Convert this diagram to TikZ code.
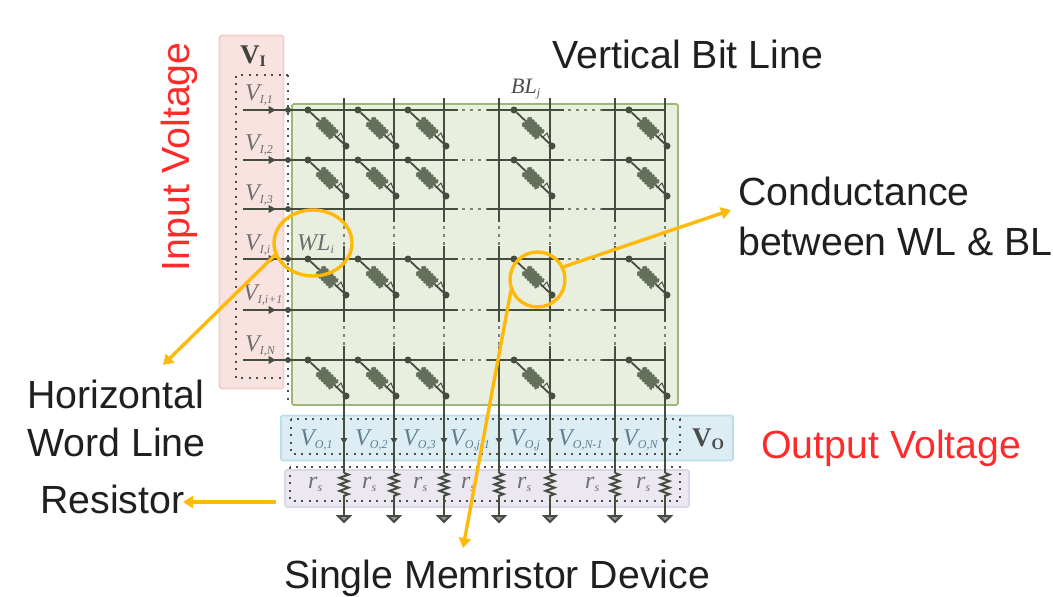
\documentclass[tikz,border=0pt]{standalone}
\usepackage{fontspec}
\setmainfont{Liberation Sans}
\newfontfamily\serifr{Liberation Serif}
\newcommand{\lab}[2]{{\serifr\itshape #1\raisebox{-3pt}{\fontsize{12}{12}\selectfont #2}}}
\newcommand{\blab}[2]{{\serifr\bfseries #1\raisebox{-3pt}{\fontsize{16}{16}\selectfont #2}}}
\usetikzlibrary{arrows.meta,decorations.pathmorphing,shapes.geometric}
\definecolor{pinkbox}{HTML}{F8E3E1}
\definecolor{pinkedge}{HTML}{F2CFCB}
\definecolor{greenbox}{HTML}{E9EFDF}
\definecolor{greenedge}{HTML}{9CB878}
\definecolor{bluebox}{HTML}{DCEEF4}
\definecolor{blueedge}{HTML}{B8DFEA}
\definecolor{purplebox}{HTML}{ECE8F2}
\definecolor{purpleedge}{HTML}{DDD6E8}
\definecolor{wire}{HTML}{454D40}
\definecolor{cell}{HTML}{65705A}
\definecolor{callout}{HTML}{FFB908}
\definecolor{redtext}{HTML}{FF2A2A}
\definecolor{graytext}{HTML}{6E6E6E}
\definecolor{bluetext}{HTML}{5F7F90}
\tikzset{
  x=1pt,y=-1pt,
  box/.style={rounded corners=1.5pt,line width=1.6pt},
  dotbox/.style={line width=2pt,dash pattern=on 2pt off 5.5pt,black!70},
  wireline/.style={line width=2.2pt,color=wire},
  wiredots/.style={line width=2pt,color=wire!70,dash pattern=on 2.5pt off 5.5pt},
  mark dot/.style={circle,fill=wire,inner sep=0pt,minimum size=7pt},
  label big/.style={font=\fontsize{39.3}{39.3}\selectfont,inner sep=0pt,anchor=base west,text=black!88},
  label red/.style={font=\fontsize{39.3}{39.3}\selectfont,inner sep=0pt,text=redtext},
  math/.style={font=\fontsize{24}{24}\selectfont,inner sep=0pt,anchor=base west,text=graytext},
  callout line/.style={line width=3.4pt,color=callout,-{Triangle[length=10pt,width=12pt]}},
  callout ring/.style={draw=callout,line width=3.4pt,inner sep=0pt},
}
\begin{document}
\begin{tikzpicture}
\useasboundingbox (0,0) rectangle (1053,597);
% background boxes
\node[box,draw=pinkedge,fill=pinkbox,minimum width=64pt,minimum height=353pt,inner sep=0pt] (pinkB) at (251.5,212) {};
\node[box,draw=greenedge,fill=greenbox,minimum width=386pt,minimum height=301pt,inner sep=0pt] (greenB) at (485,254.5) {};
\node[box,draw=blueedge,fill=bluebox,minimum width=452pt,minimum height=45pt,inner sep=0pt] (blueB) at (507,438) {};
\node[box,draw=purpleedge,fill=purplebox,minimum width=404pt,minimum height=37pt,inner sep=0pt] (purpleB) at (487,488.5) {};
% dotted frames
\draw[dotbox] (288,75) -- (236,75) -- (236,378) -- (284,378);
\draw[dotbox] (288,75) -- (288,404);
\draw[dotbox] (291,419) rectangle (680,454);
\draw[dotbox] (290,467) rectangle (680,501);
% horizontal word lines
\foreach \y/\n in {110/1,160/2,209/3,259/4,310/5,360/6}{
  \coordinate (wlA\n) at (243,\y);
  \coordinate (wlB\n) at (458,\y);
  \coordinate (wlC\n) at (487,\y);
  \coordinate (wlD\n) at (564,\y);
  \coordinate (wlE\n) at (602,\y);
  \coordinate (wlF\n) at (666,\y);
  \draw[wireline] (wlA\n) -- (wlB\n);
  \draw[wireline] (wlC\n) -- (wlD\n);
  \draw[wireline] (wlE\n) -- (wlF\n);
  \draw[wiredots] (wlB\n) ++(4,0) -- (wlC\n);
  \draw[wiredots] (wlD\n) ++(4,0) -- (wlE\n);
  \node[isosceles triangle,isosceles triangle apex angle=60,fill=wire,inner sep=0pt,minimum size=7pt] (inA\n) at (271,\y) {};
  \node[mark dot,minimum size=6pt] (inB\n) at (288,\y) {};
}
% vertical bit lines
\foreach \x/\n in {344/1,394/2,444/3,499/4,550/5,615/6,665/7}{
  \coordinate (top\n) at (\x,98);
  \coordinate (gapA\n) at (\x,222);
  \coordinate (gapB\n) at (\x,246);
  \coordinate (gapC\n) at (\x,322);
  \coordinate (gapD\n) at (\x,346);
  \coordinate (foot\n) at (\x,516);
  \coordinate (resT\n) at (\x,473);
  \coordinate (resB\n) at (\x,497);
  \draw[wireline] (top\n) -- (gapA\n);
  \draw[wireline] (gapB\n) -- (gapC\n);
  \draw[wireline] (gapD\n) -- (resT\n);
  \draw[wireline] (resB\n) -- (foot\n);
  \draw[wiredots] (gapA\n) ++(0,4) -- (gapB\n);
  \draw[wiredots] (gapC\n) ++(0,4) -- (gapD\n);
  \draw[line width=2pt,color=wire,decorate,decoration={zigzag,segment length=6.5pt,amplitude=4.5pt}] (resT\n) -- (resB\n);
  \node[regular polygon,regular polygon sides=3,fill=wire,inner sep=0pt,minimum size=8pt,shape border rotate=180] (arrO\n) at (\x,440) {};
  \draw[line width=1.8pt,color=wire,fill=wire!60] (\x-6,516) -- (\x+6,516) -- (\x,522) -- cycle;
}
% memristor cells
\foreach \x in {344,394,444,550,665}{
  \foreach \y in {110,160,259,360}{
    \node[mark dot] (cellA\x\y) at (\x-36,\y) {};
    \node[mark dot] (cellB\x\y) at (\x+2,\y+36) {};
    \draw[wire,line width=1.8pt] (cellA\x\y) -- (cellB\x\y);
    \node[draw=cell,fill=cell,line width=2pt,dash pattern=on 2pt off 1.5pt,minimum width=20pt,minimum height=11pt,inner sep=0pt,rotate=-45] (cellC\x\y) at (\x-17,\y+18) {};
    \draw[wire,line width=1pt] (\x-8,\y+28) -- (\x-3,\y+23) -- (\x+1,\y+33);
  }
}
% input labels
\node[math] (vi1) at (245,100) {\lab{V}{I,1}};
\node[math] (vi2) at (245,150) {\lab{V}{I,2}};
\node[math] (vi3) at (245,200) {\lab{V}{I,3}};
\node[math] (vi4) at (245,250) {\lab{V}{I,i}};
\node[math] (vi5) at (243,300) {\lab{V}{I,i+1}};
\node[math] (vi6) at (245,351) {\lab{V}{I,N}};
\node[math,font=\fontsize{27}{27}\selectfont,text=black!75] (vBig) at (240,63) {\blab{V}{I}};
\node[math] (wl) at (297,250) {\lab{WL}{i}};
\node[math,font=\fontsize{22}{22}\selectfont,text=black!70] (bl) at (511,93) {\lab{BL}{j}};
% output labels
\node[math,text=bluetext] (vo1) at (300,445) {\lab{V}{O,1}};
\node[math,text=bluetext] (vo2) at (355,445) {\lab{V}{O,2}};
\node[math,text=bluetext] (vo3) at (403,445) {\lab{V}{O,3}};
\node[math,text=bluetext] (vo4) at (450,445) {\lab{V}{O,j-1}};
\node[math,text=bluetext] (vo5) at (510,445) {\lab{V}{O,j}};
\node[math,text=bluetext] (vo6) at (558,445) {\lab{V}{O,N-1}};
\node[math,text=bluetext] (vo7) at (623,445) {\lab{V}{O,N}};
\node[math,font=\fontsize{27}{27}\selectfont,text=black!70] (vBigO) at (692,446) {\blab{V}{O}};
% resistor labels
\foreach \x/\n in {308/1,362/2,413/3,461/4,517/5,585/6,636/7}{
  \node[math] (rs\n) at (\x,488) {\lab{r}{s}};
}
% callout rings
\node[callout ring,ellipse,minimum width=78pt,minimum height=66pt] (ringWL) at (313,243) {};
\node[callout ring,circle,minimum size=55pt] (ringM) at (537.5,279.5) {};
\coordinate (endWL) at (163,365);
\coordinate (endC) at (731,210);
\coordinate (endM) at (463,548);
\coordinate (startR) at (276,502);
\coordinate (endR) at (183,502);
\coordinate (startWL) at (275,255);
\coordinate (startC) at (563,267);
\coordinate (startM) at (511,290);
\draw[callout line] (startWL) -- (endWL);
\draw[callout line] (startC) -- (endC);
\draw[callout line] (startM) -- (endM);
\draw[callout line] (startR) -- (endR);
% large text
\node[label big] (tBit) at (552,68) {Vertical Bit Line};
\node[label big] (tCond) at (738,205) {Conductance};
\node[label big] (tBet) at (738,255) {between WL \& BL};
\node[label big] (tHor) at (27,408) {Horizontal};
\node[label big] (tWord) at (27,456) {Word Line};
\node[label big] (tRes) at (40,513) {Resistor};
\node[label big] (tMem) at (284,588) {Single Memristor Device};
\node[label red,anchor=base west] (tOut) at (761,458) {Output Voltage};
\node[label red,anchor=base west,rotate=90] (tIn) at (189,272) {Input Voltage};
\end{tikzpicture}
\end{document}
